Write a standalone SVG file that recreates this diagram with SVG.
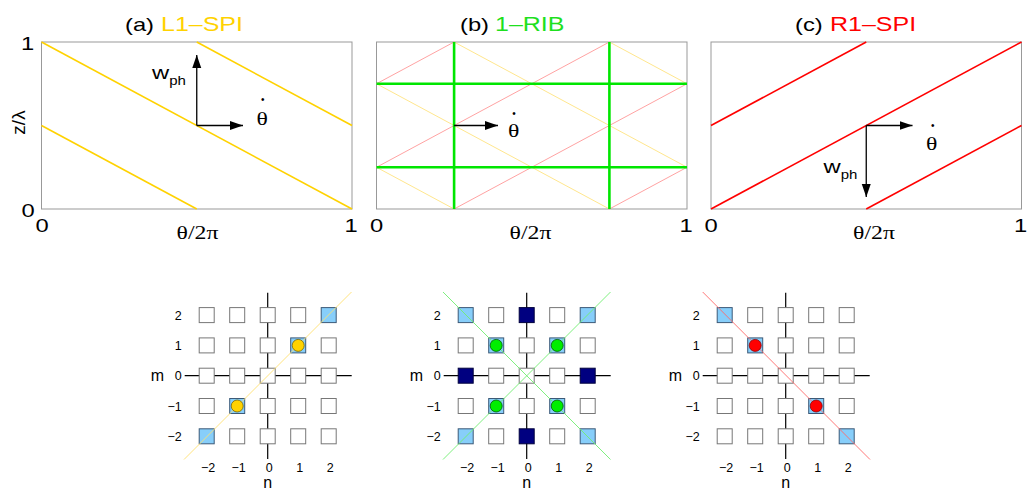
<svg xmlns="http://www.w3.org/2000/svg" width="1028" height="489" viewBox="0 0 1028 489">
<defs>
<marker id="ah" markerUnits="userSpaceOnUse" markerWidth="14" markerHeight="10" refX="13" refY="4.5" orient="auto">
<path d="M0,0 L13,4.5 L0,9 z" fill="#000"/>
</marker>
</defs>
<style>
.box{fill:#fff;stroke:#999;stroke-width:1}
.t{font-family:"Liberation Sans",Arial,Helvetica,sans-serif;font-size:19px;fill:#000}
.tt{font-family:"Liberation Sans",Arial,Helvetica,sans-serif;font-size:20px}
.s{font-family:"Liberation Serif","Times New Roman",serif;font-size:19px;fill:#000}
.dot{font-family:"Liberation Sans",Arial,sans-serif;font-size:10px;fill:#000;text-anchor:middle}
.sm{font-family:"Liberation Sans",Arial,Helvetica,sans-serif;font-size:12.5px;fill:#000}
.lab{font-family:"Liberation Sans",Arial,Helvetica,sans-serif;font-size:16px;fill:#000}
.mid{text-anchor:middle}
.end{text-anchor:end}
.gold{stroke:#ffd200;stroke-width:1.6;fill:none}
.red{stroke:#ff0000;stroke-width:1.6;fill:none}
.grn{stroke:#00e600;stroke-width:2.6;fill:none}
.pk{stroke:#ff8a8a;stroke-width:0.8;fill:none}
.yl{stroke:#ffdf70;stroke-width:0.8;fill:none}
.arr{stroke:#000;stroke-width:1.3;fill:none;marker-end:url(#ah)}
.axl{stroke:#000;stroke-width:1.2;fill:none}
.sq{fill:#fff;stroke:#777;stroke-width:1}
.lb{fill:#87cefa;stroke:#3c5a78;stroke-width:1}
.nv{fill:#000080;stroke:#00003c;stroke-width:1}
.dy{stroke:#ffe070;stroke-width:0.9;fill:none}
.dg{stroke:#70ee70;stroke-width:0.9;fill:none}
.dr{stroke:#ff6a6a;stroke-width:0.9;fill:none}
.cy{fill:#ffd200;stroke:#7a6400;stroke-width:0.8}
.cg{fill:#00ee00;stroke:#005a00;stroke-width:0.8}
.cr{fill:#ff0000;stroke:#900000;stroke-width:0.8}
</style>

<!-- Panel (a) top -->
<g id="panel-a">
<text class="t" transform="translate(125,30.5) scale(1.25,1)">(a)</text>
<text class="tt" transform="translate(161,30.5) scale(1.25,1)" fill="#ffd200">L1–SPI</text>
<rect class="box" x="41.5" y="42" width="310.5" height="167"/>
<line class="gold" x1="41.5" y1="42" x2="352" y2="209"/>
<line class="gold" x1="196.75" y1="42" x2="352" y2="125.5"/>
<line class="gold" x1="41.5" y1="125.5" x2="196.75" y2="209"/>
<text class="t mid" transform="translate(27.5,49.5) scale(1.25,1)">1</text>
<text class="t mid" transform="translate(28,217) scale(1.25,1)">0</text>
<text class="t mid" transform="translate(24.5,122.5) rotate(-90)">z/λ</text>
<text class="t mid" transform="translate(42,232) scale(1.25,1)">0</text>
<text class="t mid" transform="translate(351,232) scale(1.25,1)">1</text>
<text class="s mid" transform="translate(197.5,239) scale(1.25,1)">θ/2π</text>
<text class="t" transform="translate(152,78.5) scale(1.25,1)" font-size="17">w<tspan font-size="12" dy="6">ph</tspan></text>
<text class="s mid" transform="translate(262.2,124.5) scale(1.25,1)">θ</text>
<text class="dot" x="262.7" y="102.8">•</text>
</g>

<!-- Panel (b) top -->
<g id="panel-b">
<text class="t" transform="translate(460,30.5) scale(1.25,1)">(b)</text>
<text class="tt" transform="translate(495,30.5) scale(1.25,1)" fill="#1ee01e">1–RIB</text>
<rect class="box" x="376.5" y="42" width="310.5" height="167"/>
<line class="pk" x1="376.5" y1="83.75" x2="454.1" y2="42"/>
<line class="pk" x1="376.5" y1="167.25" x2="609.4" y2="42"/>
<line class="pk" x1="454.1" y1="209" x2="687" y2="83.75"/>
<line class="pk" x1="609.4" y1="209" x2="687" y2="167.25"/>
<line class="yl" x1="376.5" y1="167.25" x2="454.1" y2="209"/>
<line class="yl" x1="376.5" y1="83.75" x2="609.4" y2="209"/>
<line class="yl" x1="454.1" y1="42" x2="687" y2="167.25"/>
<line class="yl" x1="609.4" y1="42" x2="687" y2="83.75"/>
<line class="grn" x1="454.1" y1="42" x2="454.1" y2="209"/>
<line class="grn" x1="609.4" y1="42" x2="609.4" y2="209"/>
<line class="grn" x1="376.5" y1="83.75" x2="687" y2="83.75"/>
<line class="grn" x1="376.5" y1="167.25" x2="687" y2="167.25"/>
<text class="t mid" transform="translate(376.5,232) scale(1.25,1)">0</text>
<text class="t mid" transform="translate(686,232) scale(1.25,1)">1</text>
<text class="s mid" transform="translate(530.5,239) scale(1.25,1)">θ/2π</text>
<text class="s mid" transform="translate(513.8,136.7) scale(1.25,1)">θ</text>
<text class="dot" x="514" y="116.8">•</text>
</g>

<!-- Panel (c) top -->
<g id="panel-c">
<text class="t" transform="translate(795,30.5) scale(1.25,1)">(c)</text>
<text class="tt" transform="translate(830,30.5) scale(1.25,1)" fill="#ff0000">R1–SPI</text>
<rect class="box" x="711" y="42" width="310.5" height="167"/>
<line class="red" x1="711" y1="209" x2="1021.5" y2="42"/>
<line class="red" x1="711" y1="125.5" x2="866.25" y2="42"/>
<line class="red" x1="866.25" y1="209" x2="1021.5" y2="125.5"/>
<text class="t mid" transform="translate(711,232) scale(1.25,1)">0</text>
<text class="t mid" transform="translate(1020.5,232) scale(1.25,1)">1</text>
<text class="s mid" transform="translate(874,239) scale(1.25,1)">θ/2π</text>
<text class="t" transform="translate(823.5,173.3) scale(1.25,1)" font-size="17">w<tspan font-size="12" dy="6">ph</tspan></text>
<text class="s mid" transform="translate(931.7,150) scale(1.25,1)">θ</text>
<text class="dot" x="932.7" y="128.5">•</text>
</g>

<!-- arrows -->
<g id="connectors">
<line class="arr" x1="196.75" y1="125.5" x2="196.75" y2="55"/>
<line class="arr" x1="196.75" y1="125.5" x2="243" y2="125.5"/>
<line class="arr" x1="454.1" y1="125.5" x2="498" y2="125.5"/>
<line class="arr" x1="866.25" y1="125.5" x2="912.5" y2="125.5"/>
<line class="arr" x1="866.25" y1="125.5" x2="866.25" y2="197"/>
</g>

<!-- Bottom (a) -->
<g id="grid-a">
<line class="axl" x1="184.7" y1="375.7" x2="351.7" y2="375.7"/>
<line class="axl" x1="267.7" y1="292.7" x2="267.7" y2="459"/>
<rect class="sq" x="199.2" y="307.6" width="15" height="15"/><rect class="sq" x="229.7" y="307.6" width="15" height="15"/><rect class="sq" x="260.2" y="307.6" width="15" height="15"/><rect class="sq" x="290.7" y="307.6" width="15" height="15"/><rect class="lb" x="321.2" y="307.6" width="15" height="15"/>
<rect class="sq" x="199.2" y="337.9" width="15" height="15"/><rect class="sq" x="229.7" y="337.9" width="15" height="15"/><rect class="sq" x="260.2" y="337.9" width="15" height="15"/><rect class="lb" x="290.7" y="337.9" width="15" height="15"/><rect class="sq" x="321.2" y="337.9" width="15" height="15"/>
<rect class="sq" x="199.2" y="368.2" width="15" height="15"/><rect class="sq" x="229.7" y="368.2" width="15" height="15"/><rect class="sq" x="260.2" y="368.2" width="15" height="15"/><rect class="sq" x="290.7" y="368.2" width="15" height="15"/><rect class="sq" x="321.2" y="368.2" width="15" height="15"/>
<rect class="sq" x="199.2" y="398.5" width="15" height="15"/><rect class="lb" x="229.7" y="398.5" width="15" height="15"/><rect class="sq" x="260.2" y="398.5" width="15" height="15"/><rect class="sq" x="290.7" y="398.5" width="15" height="15"/><rect class="sq" x="321.2" y="398.5" width="15" height="15"/>
<rect class="lb" x="199.2" y="428.8" width="15" height="15"/><rect class="sq" x="229.7" y="428.8" width="15" height="15"/><rect class="sq" x="260.2" y="428.8" width="15" height="15"/><rect class="sq" x="290.7" y="428.8" width="15" height="15"/><rect class="sq" x="321.2" y="428.8" width="15" height="15"/>
<line class="dy" x1="184" y1="459.5" x2="351.5" y2="292"/>
<circle class="cy" cx="298.2" cy="345.4" r="6"/>
<circle class="cy" cx="237.2" cy="406" r="6"/>
<text class="sm end" x="181.7" y="319.6">2</text><text class="sm end" x="181.7" y="349.9">1</text><text class="sm end" x="181.7" y="380.2">0</text><text class="sm end" x="181.7" y="410.5">−1</text><text class="sm end" x="181.7" y="440.8">−2</text>
<text class="sm mid" x="208.2" y="471.7">−2</text><text class="sm mid" x="238.7" y="471.7">−1</text><text class="sm mid" x="269.2" y="471.7">0</text><text class="sm mid" x="299.7" y="471.7">1</text><text class="sm mid" x="330.2" y="471.7">2</text>
<text class="lab" x="150.7" y="380.5">m</text>
<text class="lab mid" x="267.7" y="487.5">n</text>
</g>

<!-- Bottom (b) -->
<g id="grid-b">
<line class="axl" x1="443.7" y1="375.7" x2="610.7" y2="375.7"/>
<line class="axl" x1="526.7" y1="292.7" x2="526.7" y2="459"/>
<rect class="lb" x="458.2" y="307.6" width="15" height="15"/><rect class="sq" x="488.7" y="307.6" width="15" height="15"/><rect class="nv" x="519.2" y="307.6" width="15" height="15"/><rect class="sq" x="549.7" y="307.6" width="15" height="15"/><rect class="lb" x="580.2" y="307.6" width="15" height="15"/>
<rect class="sq" x="458.2" y="337.9" width="15" height="15"/><rect class="lb" x="488.7" y="337.9" width="15" height="15"/><rect class="sq" x="519.2" y="337.9" width="15" height="15"/><rect class="lb" x="549.7" y="337.9" width="15" height="15"/><rect class="sq" x="580.2" y="337.9" width="15" height="15"/>
<rect class="nv" x="458.2" y="368.2" width="15" height="15"/><rect class="sq" x="488.7" y="368.2" width="15" height="15"/><rect class="sq" x="519.2" y="368.2" width="15" height="15"/><rect class="sq" x="549.7" y="368.2" width="15" height="15"/><rect class="nv" x="580.2" y="368.2" width="15" height="15"/>
<rect class="sq" x="458.2" y="398.5" width="15" height="15"/><rect class="lb" x="488.7" y="398.5" width="15" height="15"/><rect class="sq" x="519.2" y="398.5" width="15" height="15"/><rect class="lb" x="549.7" y="398.5" width="15" height="15"/><rect class="sq" x="580.2" y="398.5" width="15" height="15"/>
<rect class="lb" x="458.2" y="428.8" width="15" height="15"/><rect class="sq" x="488.7" y="428.8" width="15" height="15"/><rect class="nv" x="519.2" y="428.8" width="15" height="15"/><rect class="sq" x="549.7" y="428.8" width="15" height="15"/><rect class="lb" x="580.2" y="428.8" width="15" height="15"/>
<line class="dg" x1="443" y1="292" x2="610.5" y2="459.5"/>
<line class="dg" x1="443" y1="459.5" x2="610.5" y2="292"/>
<circle class="cg" cx="496.2" cy="345.4" r="6"/><circle class="cg" cx="557.2" cy="345.4" r="6"/>
<circle class="cg" cx="496.2" cy="406" r="6"/><circle class="cg" cx="557.2" cy="406" r="6"/>
<text class="sm end" x="440.7" y="319.6">2</text><text class="sm end" x="440.7" y="349.9">1</text><text class="sm end" x="440.7" y="380.2">0</text><text class="sm end" x="440.7" y="410.5">−1</text><text class="sm end" x="440.7" y="440.8">−2</text>
<text class="sm mid" x="467.2" y="471.7">−2</text><text class="sm mid" x="497.7" y="471.7">−1</text><text class="sm mid" x="528.2" y="471.7">0</text><text class="sm mid" x="558.7" y="471.7">1</text><text class="sm mid" x="589.2" y="471.7">2</text>
<text class="lab" x="409.7" y="380.5">m</text>
<text class="lab mid" x="526.7" y="487.5">n</text>
</g>

<!-- Bottom (c) -->
<g id="grid-c">
<line class="axl" x1="702.7" y1="375.7" x2="869.7" y2="375.7"/>
<line class="axl" x1="785.7" y1="292.7" x2="785.7" y2="459"/>
<rect class="lb" x="717.2" y="307.6" width="15" height="15"/><rect class="sq" x="747.7" y="307.6" width="15" height="15"/><rect class="sq" x="778.2" y="307.6" width="15" height="15"/><rect class="sq" x="808.7" y="307.6" width="15" height="15"/><rect class="sq" x="839.2" y="307.6" width="15" height="15"/>
<rect class="sq" x="717.2" y="337.9" width="15" height="15"/><rect class="lb" x="747.7" y="337.9" width="15" height="15"/><rect class="sq" x="778.2" y="337.9" width="15" height="15"/><rect class="sq" x="808.7" y="337.9" width="15" height="15"/><rect class="sq" x="839.2" y="337.9" width="15" height="15"/>
<rect class="sq" x="717.2" y="368.2" width="15" height="15"/><rect class="sq" x="747.7" y="368.2" width="15" height="15"/><rect class="sq" x="778.2" y="368.2" width="15" height="15"/><rect class="sq" x="808.7" y="368.2" width="15" height="15"/><rect class="sq" x="839.2" y="368.2" width="15" height="15"/>
<rect class="sq" x="717.2" y="398.5" width="15" height="15"/><rect class="sq" x="747.7" y="398.5" width="15" height="15"/><rect class="sq" x="778.2" y="398.5" width="15" height="15"/><rect class="lb" x="808.7" y="398.5" width="15" height="15"/><rect class="sq" x="839.2" y="398.5" width="15" height="15"/>
<rect class="sq" x="717.2" y="428.8" width="15" height="15"/><rect class="sq" x="747.7" y="428.8" width="15" height="15"/><rect class="sq" x="778.2" y="428.8" width="15" height="15"/><rect class="sq" x="808.7" y="428.8" width="15" height="15"/><rect class="lb" x="839.2" y="428.8" width="15" height="15"/>
<line class="dr" x1="702.7" y1="292" x2="870" y2="459.5"/>
<circle class="cr" cx="755.2" cy="345.4" r="6"/>
<circle class="cr" cx="816.2" cy="406" r="6"/>
<text class="sm end" x="699.7" y="319.6">2</text><text class="sm end" x="699.7" y="349.9">1</text><text class="sm end" x="699.7" y="380.2">0</text><text class="sm end" x="699.7" y="410.5">−1</text><text class="sm end" x="699.7" y="440.8">−2</text>
<text class="sm mid" x="726.2" y="471.7">−2</text><text class="sm mid" x="756.7" y="471.7">−1</text><text class="sm mid" x="787.2" y="471.7">0</text><text class="sm mid" x="817.7" y="471.7">1</text><text class="sm mid" x="848.2" y="471.7">2</text>
<text class="lab" x="668.7" y="380.5">m</text>
<text class="lab mid" x="785.7" y="487.5">n</text>
</g>
</svg>
